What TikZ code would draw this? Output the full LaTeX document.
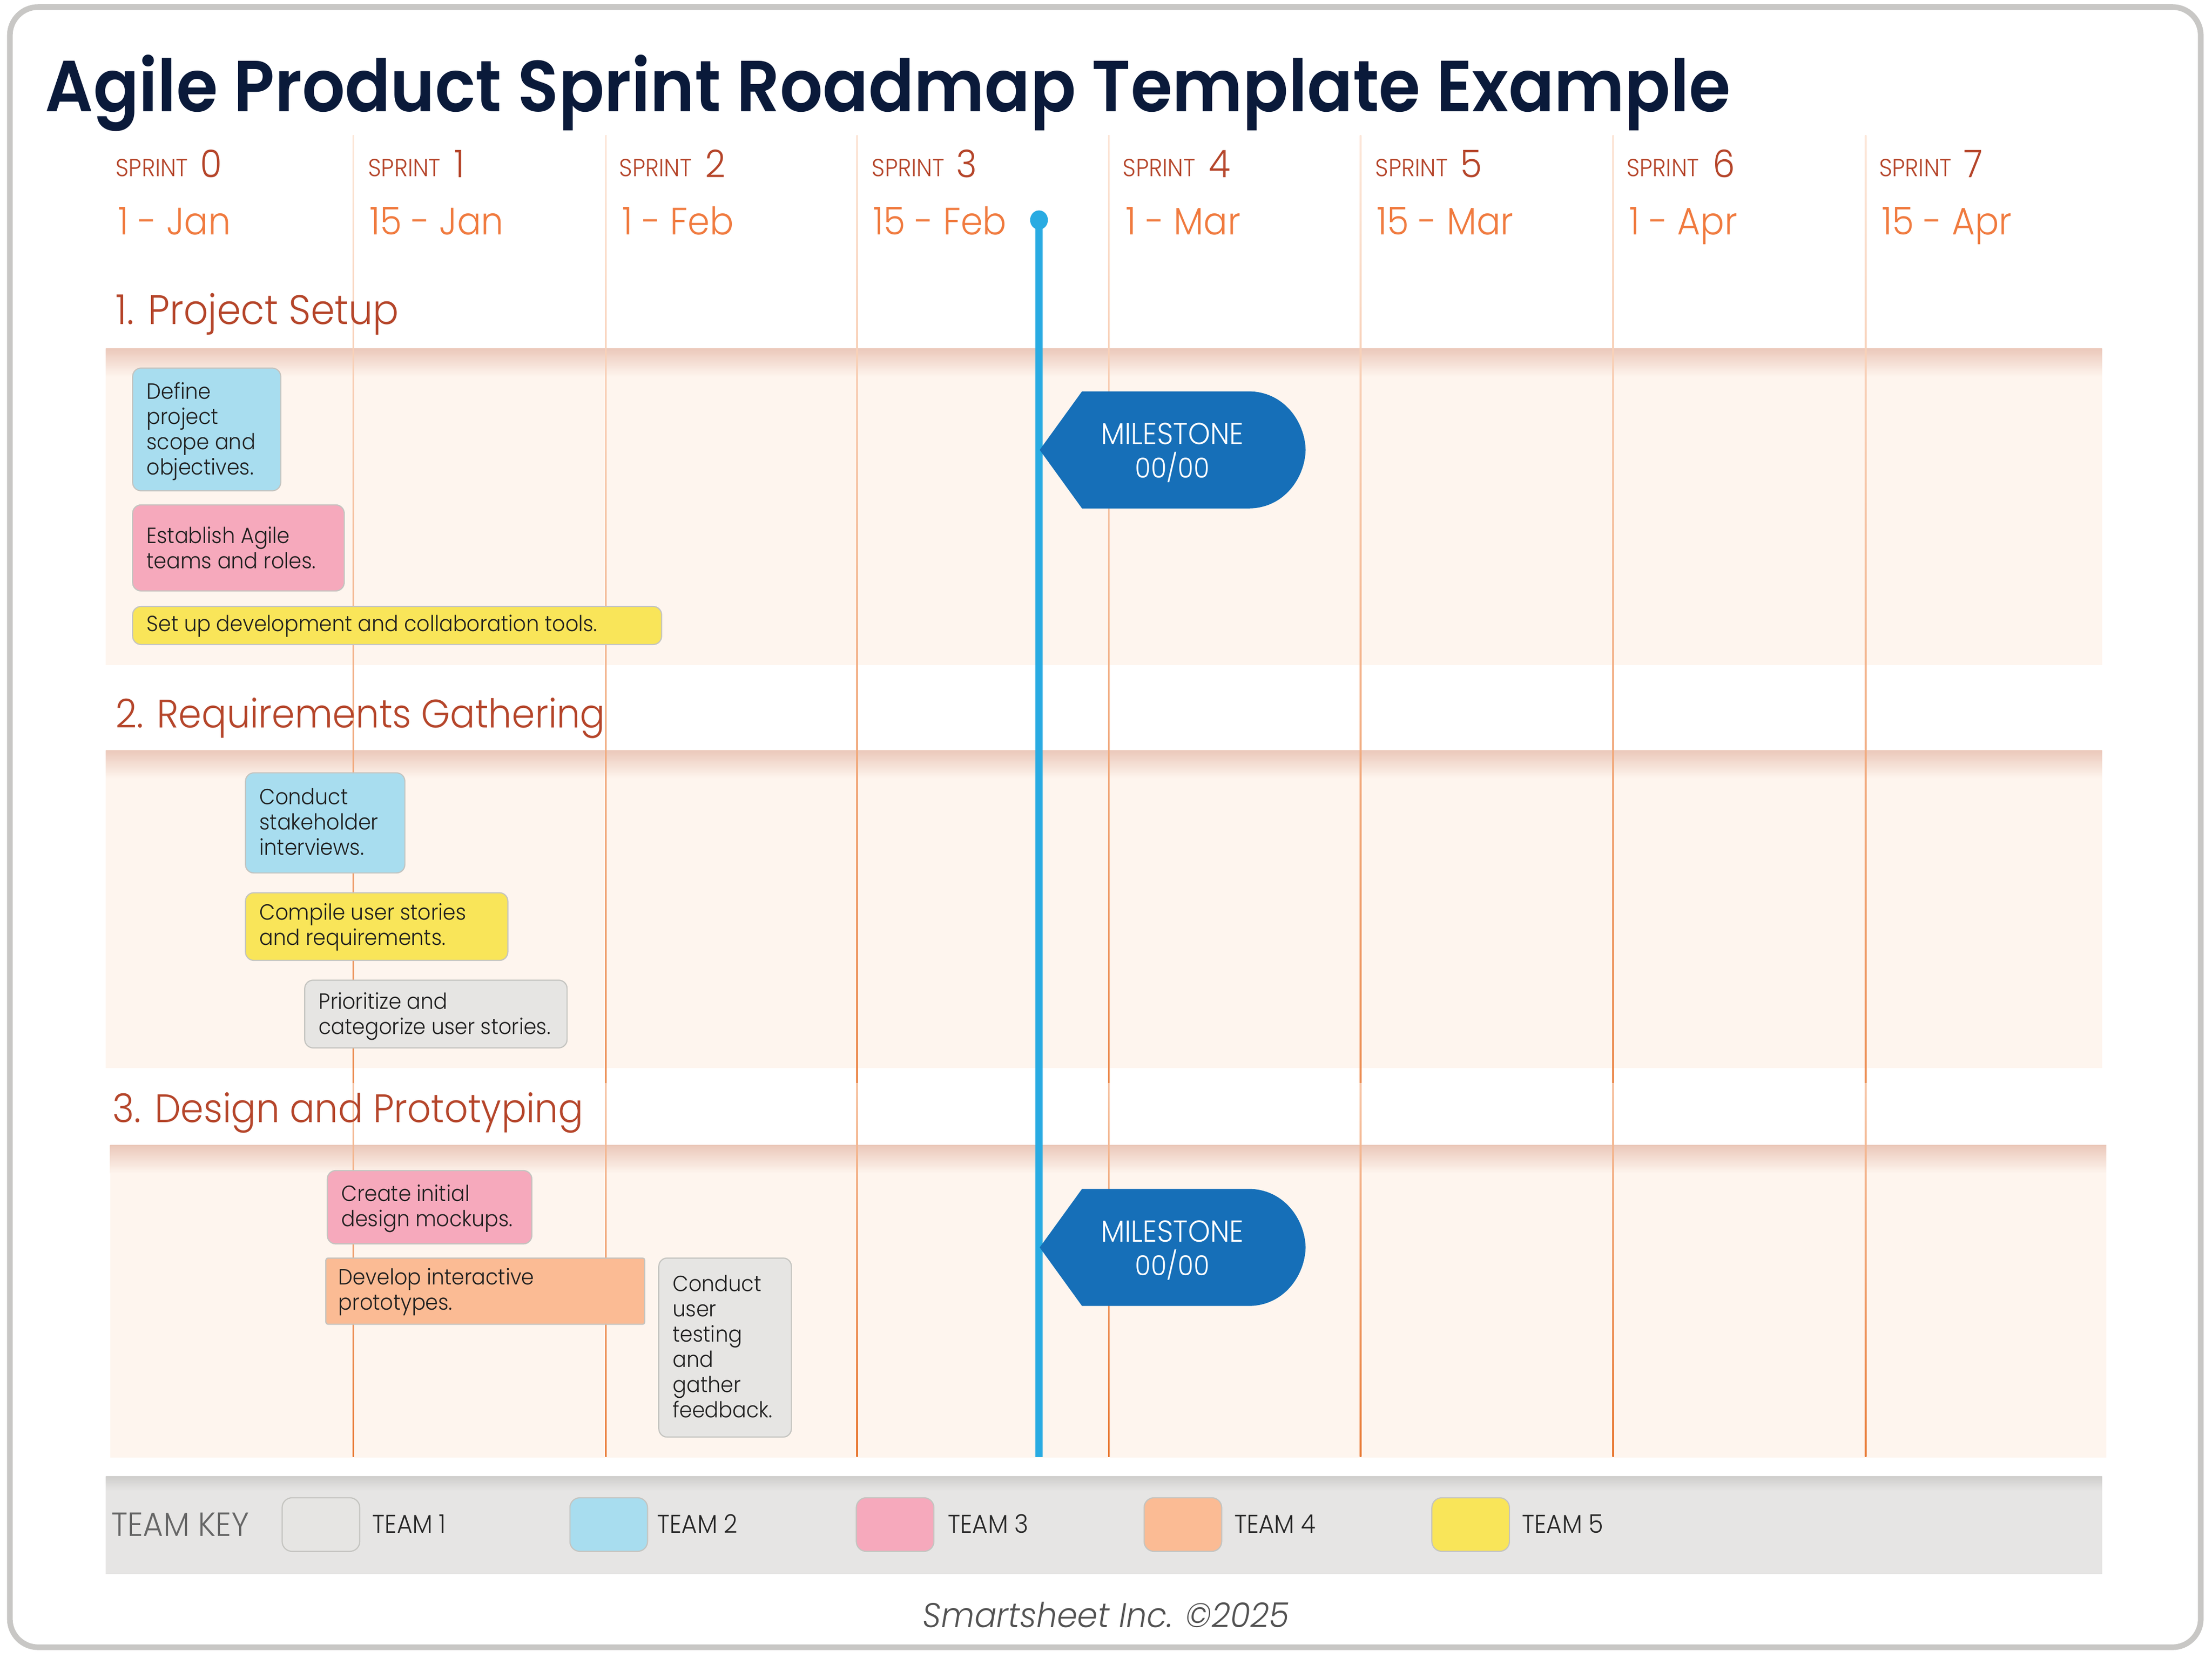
\documentclass[tikz,border=0pt]{standalone}
\usepackage{fontspec}
\setmainfont[FakeStretch=0.93,UprightFont={* Light},BoldFont={* SemiBold}]{Poppins}
\newfontfamily\itf[FakeStretch=0.95,UprightFont={* Light Italic}]{Poppins}
\usetikzlibrary{calc}
\definecolor{framec}{HTML}{C8C7C5}
\definecolor{navy}{HTML}{0A1A3A}
\definecolor{rust}{HTML}{B5452A}
\definecolor{dateor}{HTML}{F07A3E}
\definecolor{bandc}{HTML}{FEF5EE}
\definecolor{bandtop}{HTML}{EBC8BA}
\definecolor{gridtop}{HTML}{FCE6D8}
\definecolor{gridbot}{HTML}{E8762F}
\definecolor{nowc}{HTML}{29ABE2}
\definecolor{milec}{HTML}{166FB8}
\definecolor{tblue}{HTML}{A8DDEF}
\definecolor{tpink}{HTML}{F6A9BC}
\definecolor{tyellow}{HTML}{F9E559}
\definecolor{tgray}{HTML}{E6E5E3}
\definecolor{torange}{HTML}{FBBB94}
\definecolor{boxline}{HTML}{C4C4C0}
\definecolor{keyband}{HTML}{E6E5E4}
\definecolor{keytop}{HTML}{CFCECC}
\tikzset{
  x=1pt,y=-1pt,
  txt/.style={inner sep=0pt,outer sep=0pt,anchor=base west},
  sprintlab/.style={txt,text=rust,font=\fontsize{17.5}{18}\selectfont},
  sprintnum/.style={txt,text=rust,font=\fontsize{27}{28}\selectfont},
  datelab/.style={txt,text=dateor,font=\fontsize{27}{28}\selectfont},
  secthead/.style={txt,text=rust,font=\fontsize{28.2}{30}\selectfont},
  taskbox/.style={draw=boxline,line width=0.8pt,rounded corners=6pt,inner sep=0pt,outer sep=0pt,anchor=north west},
  tasktext/.style={inner sep=0pt,outer sep=0pt,anchor=west,align=left,text=black!88,font=\fontsize{15.6}{17.9}\selectfont},
  keylab/.style={inner sep=0pt,outer sep=0pt,anchor=west,text=black!85,font=\fontsize{18.2}{20}\selectfont},
  miletext/.style={inner sep=0pt,outer sep=0pt,align=center,text=white,font=\fontsize{19.5}{23.5}\selectfont},
}
\newcommand{\taskitem}[8]{%
  \node[taskbox,fill=#6,minimum width={(#4-#2)*1pt},minimum height={(#5-#3)*1pt}] (#1) at (#2,#3) {};
  \node[tasktext] (#1-t) at ([xshift=10pt,yshift=-#8 pt]#1.west) {#7};
}
\newcommand{\band}[5]{%
  \fill[bandc] (#1,#2) rectangle (#3,#4);
  \shade[top color=bandtop,bottom color=bandc] (#1,#2) rectangle (#3,#2+#5);
}
\newcommand{\gridline}[1]{%
  \shade[top color=gridtop,bottom color=gridbot!85] (#1-0.5,96) rectangle (#1+0.5,768);
  \shade[top color=gridtop!70!gridbot,bottom color=gridbot] (#1-0.5,768) rectangle (#1+0.5,1033);
}
\newcommand{\milestone}[2]{%
  \fill[milec] (737,#1) -- (767,#1-41.5) -- (885,#1-41.5)
     .. controls (910,#1-41.5) and (925,#1-20) .. (925.5,#1)
     .. controls (925,#1+20) and (910,#1+41.5) .. (885,#1+41.5)
     -- (767,#1+41.5) -- cycle;
  \node[miletext] (#2) at (831,#1+2) {{\fontsize{21.5}{23.5}\selectfont MILESTONE}\\00/00};
}
\begin{document}
\begin{tikzpicture}
\useasboundingbox (0,0) rectangle (1568,1175.3);
\fill[white] (0,0) rectangle (1568,1175.3);
\draw[framec,line width=4pt,rounded corners=20pt] (7,5) rectangle (1560,1168);
% bands
\band{75}{247}{1490}{471.5}{20}
\band{75}{532}{1490}{757.5}{20}
\band{78}{812}{1493}{1033.5}{20}
% key band
\fill[keyband] (75,1047) rectangle (1490,1116);
\shade[top color=keytop,bottom color=keyband] (75,1047) rectangle (1490,1057);
% grid
\foreach \gx in {250.5,429.5,607.5,786,964.5,1143.5,1322.5} {\gridline{\gx}}
% title
\node[txt,text=navy,font=\bfseries\fontsize{51.3}{55}\selectfont] (title) at (32,79) {Agile Product Sprint Roadmap Template Example};
% sprint headers
\foreach \i/\sx/\nx/\dx/\dt in {0/82/142/84/1 - Jan,1/261/322/262/15 - Jan,2/439/500/441/1 - Feb,3/618/678/619/15 - Feb,4/796/857/798/1 - Mar,5/975/1035/976/15 - Mar,6/1153/1214/1155/1 - Apr,7/1332/1392/1334/15 - Apr} {
  \node[sprintlab] (sl\i) at (\sx,125) {SPRINT};
  \node[sprintnum] (sn\i) at (\nx,126) {\i};
  \node[datelab] (sd\i) at (\dx,166.5) {\dt};
}
% section heads
\node[secthead,font=\fontsize{29.3}{30}\selectfont] (s1) at (82,230) {1. Project Setup};
\node[secthead] (s2) at (82,516) {2. Requirements Gathering};
\node[secthead] (s3) at (80,796) {3. Design and Prototyping};
% now line
\draw[nowc,line width=5pt] (736.5,156) -- (736.5,1033);
\fill[nowc] (736.5,156) ellipse (6.3 and 6.8);
% tasks
\taskitem{t1}{94}{261}{199}{348}{tblue}{Define\\project\\scope and\\objectives.}{1.5}
\taskitem{t2}{94}{358}{244}{419}{tpink}{Establish Agile\\teams and roles.}{0}
\taskitem{t3}{94}{430}{469}{457}{tyellow}{Set up development and collaboration tools.}{0.5}
\taskitem{t4}{174}{548}{287}{619}{tblue}{Conduct\\stakeholder\\interviews.}{-0.8}
\taskitem{t5}{174}{633}{360}{681}{tyellow}{Compile user stories\\and requirements.}{0.5}
\taskitem{t6}{216}{695}{402}{743}{tgray}{Prioritize and\\categorize user stories.}{1.5}
\taskitem{t7}{232}{830}{377}{882}{tpink}{Create initial\\design mockups.}{1}
\node[taskbox,rounded corners=1.5pt,fill=torange,minimum width=226pt,minimum height=47pt] (t8) at (231,892) {};
\node[tasktext] (t8-t) at ([xshift=9pt,yshift=-0.5pt]t8.west) {Develop interactive\\prototypes.};
\taskitem{t9}{467}{892}{561}{1019}{tgray}{Conduct\\user\\testing\\and\\gather\\feedback.}{-0.8}
% milestones
\milestone{319}{m1}
\milestone{884.5}{m2}
% key
\node[inner sep=0pt,outer sep=0pt,anchor=west,text=black!60,font=\fontsize{23.7}{25}\selectfont] (keyt) at (79,1081) {TEAM KEY};
\foreach \n/\xa/\fc/\lx in {1/200/tgray/264,2/404/tblue/466,3/607/tpink/672,4/811/torange/875,5/1015/tyellow/1079} {
  \node[taskbox,rounded corners=7pt,fill=\fc,minimum width=55pt,minimum height=38pt] (k\n) at (\xa,1062) {};
  \node[keylab] (kl\n) at (\lx,1080.5) {TEAM \n};
}
% footer
\node[inner sep=0pt,text=black!68,font=\itf\fontsize{24.3}{26}\selectfont] (foot) at (784,1145) {Smartsheet Inc. ©2025};
\end{tikzpicture}
\end{document}
